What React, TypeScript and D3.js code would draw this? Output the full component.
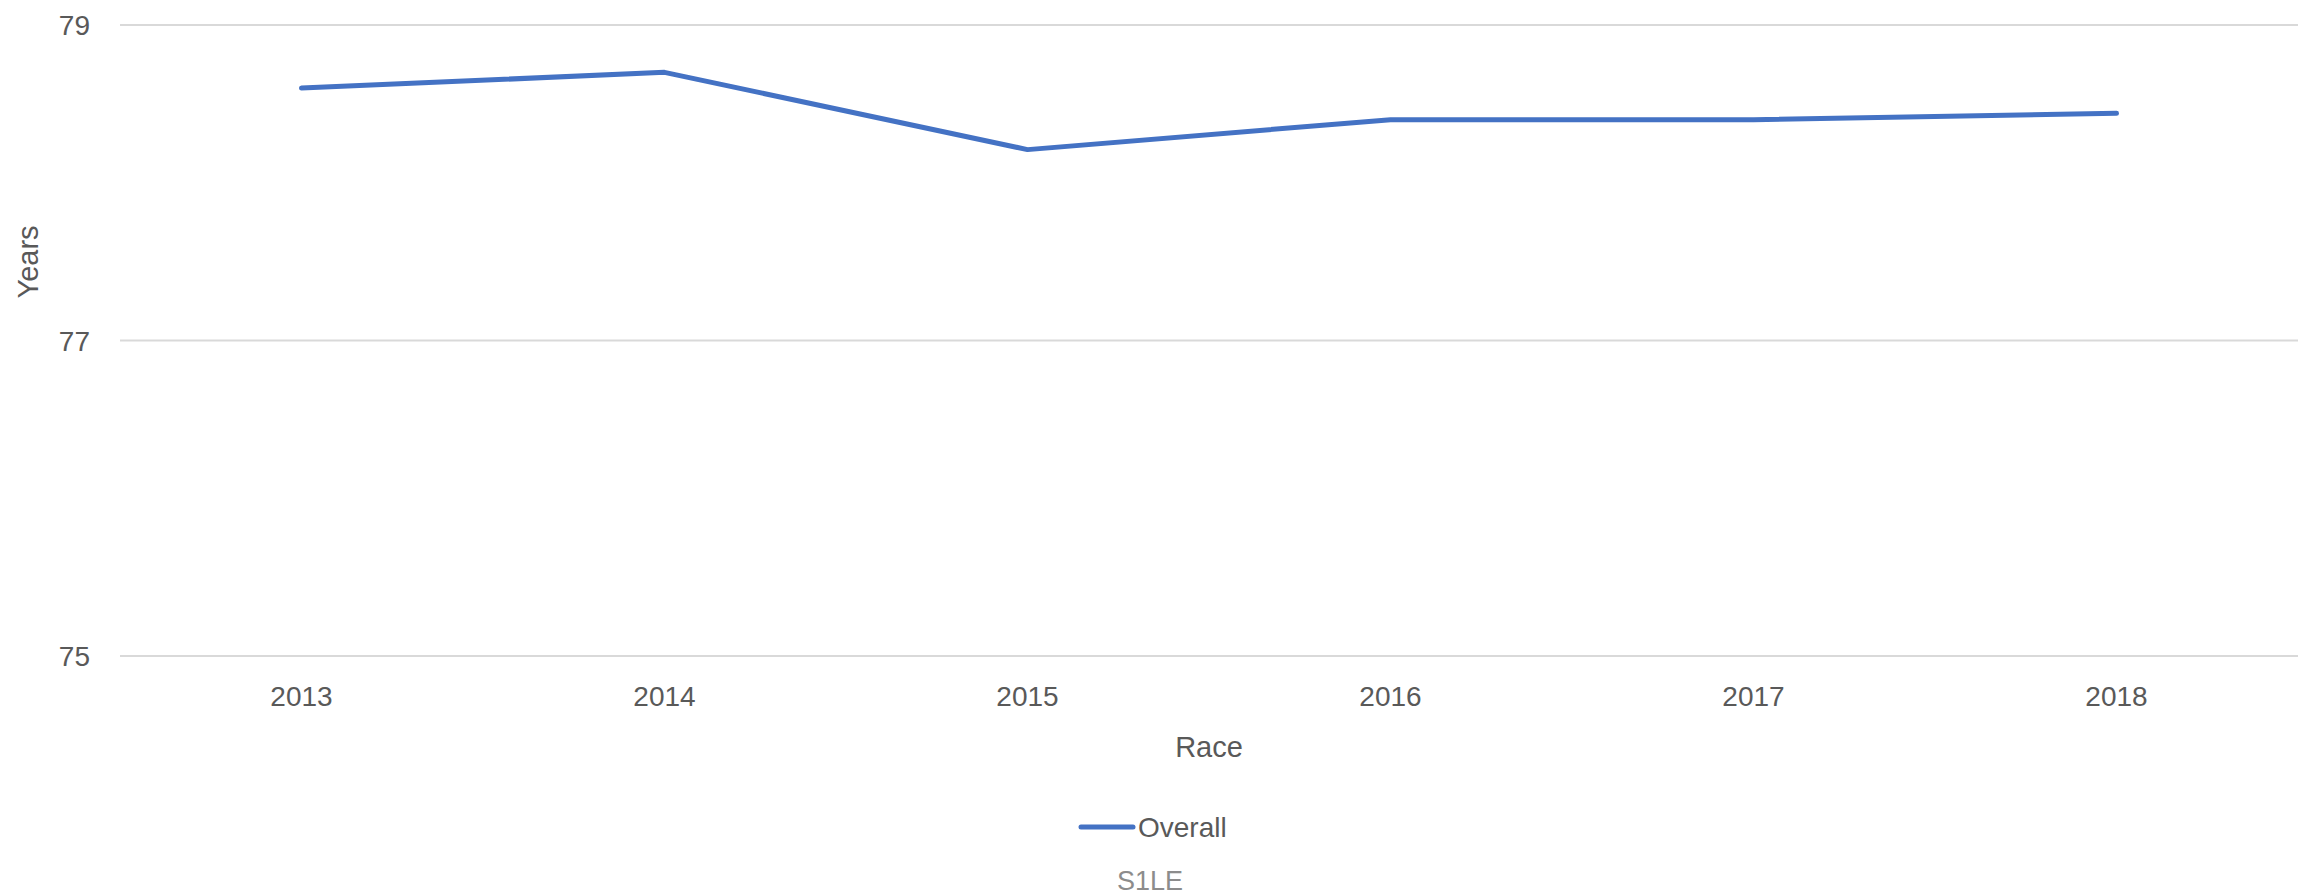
import React, { useEffect } from "react";
import { scalePoint, scaleLinear, line } from "d3";

// Life expectancy line chart (single series)

const years = ["2013", "2014", "2015", "2016", "2017", "2018"];
const overall = [78.6, 78.7, 78.21, 78.4, 78.4, 78.44];
const yTicks = [75, 77, 79];

const W = 2313,
  H = 895,
  margin = { top: 25, right: 15, bottom: 239, left: 120 },
  lineColor = "#4472C4",
  textColor = "#595959",
  font = "'Liberation Sans', Arial, sans-serif";

export default function App() {
  useEffect(() => {
    document.body.style.margin = "0";
  }, []);

  const x = scalePoint<string>()
    .domain(years)
    .range([margin.left, W - margin.right])
    .padding(0.5);

  const y = scaleLinear()
    .domain([75, 79])
    .range([H - margin.bottom, margin.top]);

  const path = line<number>()
    .x((_, i) => x(years[i]) as number)
    .y(d => y(d))(overall);

  return (
    <svg width={W} height={H} style={{ display: "block" }} fontFamily={font}>
      <rect width={W} height={H} fill="#fff" />
      {/* grid + y labels */}
      {yTicks.map(t => (
        <g key={t}>
          <line x1={margin.left} x2={W - margin.right} y1={y(t)} y2={y(t)} stroke="#d9d9d9" strokeWidth={2} />
          <text x={90} y={y(t) + 10} textAnchor="end" fontSize={28} fill={textColor}>{t}</text>
        </g>
      ))}
      {/* x labels */}
      {years.map(yr => (
        <text key={yr} x={x(yr)} y={706} textAnchor="middle" fontSize={28} fill={textColor}>{yr}</text>
      ))}
      <path d={path || ""} fill="none" stroke={lineColor} strokeWidth={5} strokeLinecap="round" strokeLinejoin="round" />
      {/* axis titles */}
      <text transform="translate(38,262) rotate(-90)" textAnchor="middle" fontSize={29} fill={textColor}>Years</text>
      <text x={1209} y={757} textAnchor="middle" fontSize={29} fill={textColor}>Race</text>
      {/* legend */}
      <line x1={1081} x2={1133} y1={827} y2={827} stroke={lineColor} strokeWidth={5} strokeLinecap="round" />
      <text x={1138} y={837} fontSize={28} fill={textColor}>Overall</text>
      <text x={1150} y={890} textAnchor="middle" fontSize={27} fill="#8c8c8c">S1LE</text>
    </svg>
  );
}
